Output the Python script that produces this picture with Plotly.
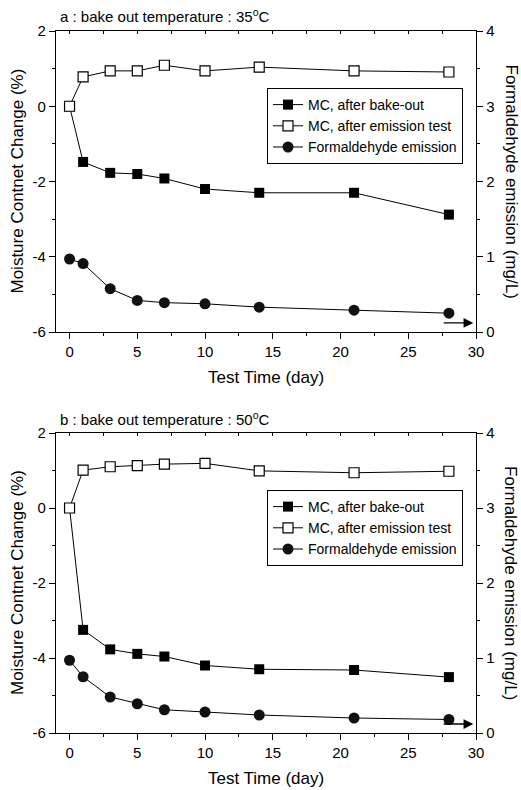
import plotly.graph_objects as go

# ---------------- data ----------------
days = [0, 1, 3, 5, 7, 10, 14, 21, 28]

a_mc_bake = [0, -1.48, -1.77, -1.80, -1.92, -2.20, -2.30, -2.30, -2.88]
a_mc_emis = [0, 0.78, 0.94, 0.94, 1.09, 0.94, 1.04, 0.94, 0.91]
a_hcho = [0.97, 0.91, 0.575, 0.42, 0.39, 0.375, 0.33, 0.29, 0.25]

b_mc_bake = [0, -3.25, -3.77, -3.89, -3.96, -4.20, -4.30, -4.32, -4.51]
b_mc_emis = [0, 1.01, 1.10, 1.13, 1.17, 1.19, 0.99, 0.94, 0.98]
b_hcho = [0.97, 0.75, 0.48, 0.39, 0.31, 0.28, 0.24, 0.20, 0.18]

series_names = ["MC, after bake-out", "MC, after emission test", "Formaldehyde emission"]
panel_titles = ["a : bake out temperature : 35<sup>o</sup>C",
                "b : bake out temperature : 50<sup>o</sup>C"]

x_ticks = [0, 5, 10, 15, 20, 25, 30]
left_ticks = [-6, -4, -2, 0, 2]
left_ticktext = ["-6", "-4", "-2", "0", "2"]
right_ticks = [0, 1, 2, 3, 4]

x_title = "Test Time (day)"
left_title = "Moisture Contnet Change (%)"
right_title = "Formaldehyde emission (mg/L)"

# ---------------- layout constants ----------------
W, H = 521, 790
FONT = "Liberation Sans, Arial, sans-serif"
px_l, px_r = 56, 476
panels = [(31, 332), (433, 733)]  # pixel top, bottom of plot areas


def xd(p):
    return p / W


def yd(p):
    return 1 - p / H


fig = go.Figure()

line = dict(color="black", width=1)
data_sets = [(a_mc_bake, a_mc_emis, a_hcho), (b_mc_bake, b_mc_emis, b_hcho)]
axis_ids = [("x", "y", "y2", "x3"), ("x2", "y3", "y4", "x4")]
legends = ["legend", "legend2"]

for (bake, emis, hcho), (xa, yl, yr, xt), lg in zip(data_sets, axis_ids, legends):
    fig.add_trace(go.Scatter(
        x=days, y=bake, name=series_names[0], mode="lines+markers",
        line=line, marker=dict(symbol="square", size=10, color="black"),
        xaxis=xa, yaxis=yl, legend=lg))
    fig.add_trace(go.Scatter(
        x=days, y=emis, name=series_names[1], mode="lines+markers",
        line=line, marker=dict(symbol="square", size=10, color="white",
                               line=dict(color="black", width=1.2)),
        xaxis=xa, yaxis=yl, legend=lg))
    fig.add_trace(go.Scatter(
        x=days, y=hcho, name=series_names[2], mode="lines+markers",
        line=line, marker=dict(symbol="circle", size=11, color="#111111"),
        xaxis=xa, yaxis=yr, legend=lg))
    # empty trace so the top (mirror) axis is drawn
    fig.add_trace(go.Scatter(x=[], y=[], xaxis=xt, yaxis=yl, showlegend=False,
                             hoverinfo="skip"))

tickfont = dict(family=FONT, size=15, color="black")
common = dict(showline=True, linecolor="black", linewidth=1.3, ticks="outside",
              ticklen=6, tickwidth=1.2, tickcolor="black", showgrid=False,
              zeroline=False, tickfont=tickfont, automargin=False)

layout = dict(
    width=W, height=H, margin=dict(l=0, r=0, t=0, b=0, autoexpand=False),
    paper_bgcolor="white", plot_bgcolor="white",
    font=dict(family=FONT, size=15, color="black"),
)

x_names = [("xaxis", "xaxis3"), ("xaxis2", "xaxis4")]
y_names = [("yaxis", "yaxis2"), ("yaxis3", "yaxis4")]
annotations = []

for i, ((top, bot), (xn, xtop), (yln, yrn)) in enumerate(zip(panels, x_names, y_names)):
    yl_id = "y" if i == 0 else "y3"
    x_id = "x" if i == 0 else "x2"
    yr_id = "y2" if i == 0 else "y4"
    layout[xn] = dict(common, domain=[xd(px_l), xd(px_r)], range=[-1, 30],
                      anchor=yl_id, tickvals=x_ticks,
                      minor=dict(ticks="outside", ticklen=3, dtick=2.5,
                                 tick0=0, tickcolor="black"))
    layout[xtop] = dict(showline=True, linecolor="black", linewidth=1.3,
                        ticks="inside", ticklen=3, tickwidth=1, tickcolor="black",
                        overlaying=x_id, side="top", anchor=yl_id, range=[-1, 30],
                        dtick=2.5, tick0=0, showticklabels=False, showgrid=False,
                        zeroline=False, automargin=False)
    layout[yln] = dict(common, domain=[yd(bot), yd(top)], range=[-6, 2],
                       anchor=x_id, tickvals=left_ticks, ticktext=left_ticktext,
                       minor=dict(ticks="outside", ticklen=3, dtick=1,
                                  tickcolor="black"))
    layout[yrn] = dict(common, range=[0, 4], overlaying=yl_id, side="right",
                       anchor=x_id, tickvals=right_ticks,
                       minor=dict(ticks="outside", ticklen=3, dtick=0.5,
                                  tickcolor="black"))
    mid = (top + bot) / 2
    annotations += [
        dict(text=panel_titles[i], xref="paper", yref="paper", x=xd(58),
             y=yd(top - 15), xanchor="left", yanchor="middle", showarrow=False,
             font=dict(family=FONT, size=15)),
        dict(text=x_title, xref="paper", yref="paper", x=xd((px_l + px_r) / 2),
             y=yd(bot + 45), xanchor="center", yanchor="middle", showarrow=False,
             font=dict(family=FONT, size=17)),
        dict(text=left_title, xref="paper", yref="paper", x=xd(17),
             y=yd(mid), xanchor="center", yanchor="middle", showarrow=False,
             textangle=-90, font=dict(family=FONT, size=17)),
        dict(text=right_title, xref="paper", yref="paper", x=xd(511),
             y=yd(mid), xanchor="center", yanchor="middle", showarrow=False,
             textangle=90, font=dict(family=FONT, size=17)),
        dict(text="", x=29.8, y=0.12, ax=27.5, ay=0.12, xref=x_id, yref=yr_id,
             axref=x_id, ayref=yr_id, showarrow=True, arrowhead=2,
             arrowsize=1.5, arrowwidth=1.3, arrowcolor="black"),
    ]

leg_common = dict(bordercolor="black", borderwidth=1, bgcolor="white",
                  font=dict(family=FONT, size=14, color="black"),
                  xanchor="right", yanchor="top", tracegroupgap=0,
                  itemwidth=30)
layout["legend"] = dict(leg_common, x=xd(463), y=yd(88))
layout["legend2"] = dict(leg_common, x=xd(463), y=yd(490))
layout["annotations"] = annotations
layout["showlegend"] = True

fig.update_layout(**layout)
fig.write_html("out.html",
               config={"displayModeBar": False},
               post_script="document.body.style.margin='0px';"
                           "document.body.style.overflow='hidden';")
